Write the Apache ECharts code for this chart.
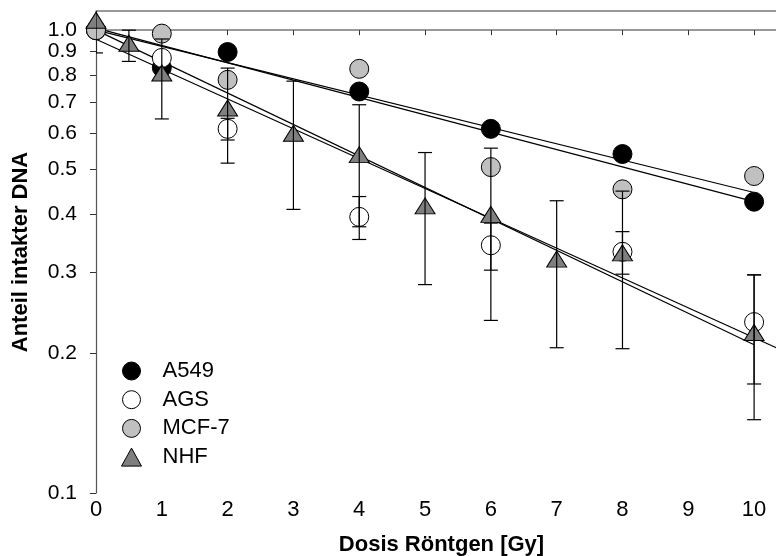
<!DOCTYPE html>
<html>
<head>
<meta charset="utf-8">
<script src="https://cdn.jsdelivr.net/npm/echarts@6/dist/echarts.min.js"></script>
<style>
  html, body { margin: 0; padding: 0; background: #fff; }
  #chart { width: 776px; height: 556px; }
</style>
</head>
<body>
<div id="chart"></div>
<script>
// Radiation dose (Gy) for the cell lines
const doseCells = [0, 1, 2, 4, 6, 8, 10];
const doseNHF = [0, 0.5, 1, 2, 3, 4, 5, 6, 7, 8, 10];

// Fraction of intact DNA
const a549 = [1.0, 0.83, 0.897, 0.737, 0.612, 0.540, 0.426];
const ags = [1.0, 0.871, 0.612, 0.395, 0.343, 0.332, 0.234];
const mcf7 = [1.0, 0.983, 0.781, 0.825, 0.506, 0.453, 0.484];
const nhf = [1.04, 0.928, 0.80, 0.672, 0.593, 0.533, 0.413, 0.396, 0.317, 0.327, 0.22];

// Standard deviations (null = none shown)
const agsErr = [null, null, 0.033, 0.042, 0.04, 0.035, 0.062];
const nhfErr = [0.147, 0.072, 0.157, 0.156, 0.183, 0.157, 0.131, 0.16, 0.111, 0.122, 0.076];

// Exponential fits: [dose, fraction] at both ends
const fitA549 = [[0, 1.0], [10, 0.446]];
const fitMCF7 = [[0, 1.01], [10, 0.426]];
const fitAGS = [[0, 1.0], [10, 0.209]];
const fitNHF = [[0, 0.956], [10.5, 0.201]];

// Axis ticks
const xTicks = [0, 1, 2, 3, 4, 5, 6, 7, 8, 9, 10];
const yTicks = [0.1, 0.2, 0.3, 0.4, 0.5, 0.6, 0.7, 0.8, 0.9, 1.0];
const yTop = 1.1;
const xMax = 10.5;

// The y axis is logarithmic: values are carried as log10 on a value axis
const lg = v => Math.log10(v);
const pts = (xs, ys) => xs.map((x, i) => [x, lg(ys[i])]);
const errPts = (xs, ys, es) => xs.map((x, i) => es[i] == null ? null : [x, lg(ys[i]), ys[i], es[i]]).filter(d => d);

const FONT = 'Liberation Sans, Arial, Helvetica, sans-serif';
const FS = 22;

function renderErrorBar(params, api) {
  const x = api.value(0), v = api.value(2), e = api.value(3);
  const hi = api.coord([x, lg(v + e)]);
  const lo = api.coord([x, lg(v - e)]);
  const w = 7;
  const style = { stroke: '#000', lineWidth: 1.2 };
  return {
    type: 'group',
    children: [
      { type: 'line', shape: { x1: hi[0], y1: hi[1], x2: lo[0], y2: lo[1] }, style },
      { type: 'line', shape: { x1: hi[0] - w, y1: hi[1], x2: hi[0] + w, y2: hi[1] }, style },
      { type: 'line', shape: { x1: lo[0] - w, y1: lo[1], x2: lo[0] + w, y2: lo[1] }, style }
    ]
  };
}

function fitLine(name, ends) {
  return {
    name, type: 'line', data: ends.map(p => [p[0], lg(p[1])]),
    symbol: 'none', silent: true, z: 2, clip: true,
    lineStyle: { color: '#000', width: 1.2 }
  };
}

const markerStyle = fill => ({ color: fill, borderColor: '#000', borderWidth: 1, opacity: 1 });
const fills = { 'A549': '#000', 'AGS': '#fff', 'MCF-7': '#c0c0c0', 'NHF': '#7f7f7f' };

const chart = echarts.init(document.getElementById('chart'), null, { renderer: 'canvas' });
chart.setOption({
  animation: false,
  backgroundColor: '#fff',
  textStyle: { fontFamily: FONT },
  grid: {
    left: 96, top: 11, bottom: 63, right: 776 - 96 - Math.round(65.8 * xMax),
    containLabel: false, outerBoundsMode: 'none'
  },
  legend: {
    orient: 'vertical', left: 116, top: 355,
    itemWidth: 20, itemHeight: 18, itemGap: 6.7,
    data: Object.keys(fills).map(n => ({ name: n, itemStyle: markerStyle(fills[n]) })),
    textStyle: { fontSize: FS, color: '#000', fontFamily: FONT, padding: [0, 0, 0, 16] }
  },
  xAxis: [{
    type: 'value', min: 0, max: xMax, offset: -14,
    name: 'Dosis Röntgen [Gy]', nameLocation: 'middle', nameGap: 55,
    nameTextStyle: { fontSize: FS, fontWeight: 'bold', color: '#000', fontFamily: FONT },
    axisLine: { show: true, lineStyle: { color: '#777', width: 1.5 } },
    axisTick: { show: true, length: 5, customValues: xTicks, lineStyle: { color: '#333' } },
    axisLabel: {
      customValues: xTicks, fontSize: FS, color: '#000', margin: 20, fontFamily: FONT,
      hideOverlap: false, showMinLabel: true, showMaxLabel: true
    },
    splitLine: { show: false }
  }, {
    type: 'value', position: 'top', min: 0, max: xMax,
    axisLine: { show: true, lineStyle: { color: '#777', width: 1.5 } },
    axisTick: { show: false }, axisLabel: { show: false }, splitLine: { show: false }
  }],
  yAxis: {
    type: 'value', min: lg(yTicks[0]), max: lg(yTop),
    name: 'Anteil intakter DNA', nameLocation: 'middle', nameGap: 64, nameRotate: 90,
    nameTextStyle: { fontSize: FS, fontWeight: 'bold', color: '#000', fontFamily: FONT },
    axisLine: { show: true, lineStyle: { color: '#555', width: 1.2 } },
    axisTick: { show: true, length: 6, customValues: yTicks.map(lg), lineStyle: { color: '#333' } },
    axisLabel: {
      customValues: yTicks.map(lg), fontSize: 21, color: '#000', margin: 19, fontFamily: FONT,
      hideOverlap: false, showMinLabel: true, showMaxLabel: true,
      formatter: v => Math.pow(10, v).toFixed(1)
    },
    splitLine: { show: false }
  },
  series: [
    fitLine('fit A549', fitA549),
    fitLine('fit MCF-7', fitMCF7),
    fitLine('fit AGS', fitAGS),
    fitLine('fit NHF', fitNHF),
    { name: 'A549', type: 'scatter', z: 3, data: pts(doseCells, a549), symbol: 'circle', symbolSize: 19, itemStyle: markerStyle(fills['A549']) },
    { name: 'AGS', type: 'scatter', z: 3, data: pts(doseCells, ags), symbol: 'circle', symbolSize: 19, itemStyle: markerStyle(fills['AGS']) },
    { name: 'MCF-7', type: 'scatter', z: 3, data: pts(doseCells, mcf7), symbol: 'circle', symbolSize: 19, itemStyle: markerStyle(fills['MCF-7']) },
    { name: 'NHF', type: 'scatter', z: 3, data: pts(doseNHF, nhf), symbol: 'triangle', symbolSize: [20, 16], symbolOffset: [0, -2], itemStyle: markerStyle(fills['NHF']) },
    { name: 'err AGS', type: 'custom', z: 4, clip: true, silent: true, renderItem: renderErrorBar, encode: { x: 0, y: 1 }, data: errPts(doseCells, ags, agsErr) },
    { name: 'err NHF', type: 'custom', z: 4, clip: true, silent: true, renderItem: renderErrorBar, encode: { x: 0, y: 1 }, data: errPts(doseNHF, nhf, nhfErr) }
  ]
});
</script>
</body>
</html>
